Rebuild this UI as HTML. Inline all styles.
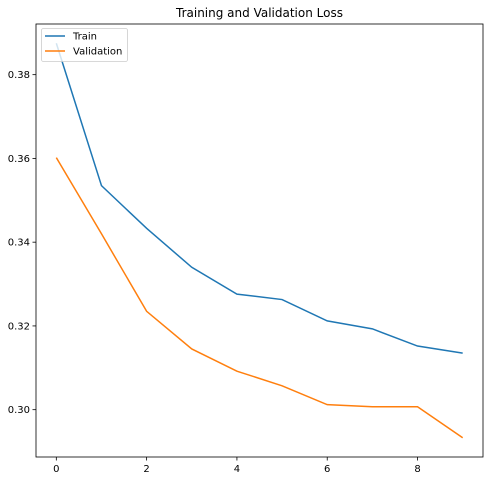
<!DOCTYPE html>
<html><head><meta charset="utf-8"><style>
body{margin:0;background:#fff;font-family:"Liberation Sans","DejaVu Sans",sans-serif;}
svg text{font-family:"DejaVu Sans","Liberation Sans",sans-serif;}
</style></head><body>
<svg id="chart" width="489" height="482" xmlns="http://www.w3.org/2000/svg"></svg>
<script>
const epochs=[0,1,2,3,4,5,6,7,8,9];
const trainLoss=[0.3875,0.3535,0.3433,0.3340,0.3276,0.3263,0.3212,0.3193,0.3152,0.3135];
const valLoss=[0.3602,0.3420,0.3235,0.3145,0.3092,0.3057,0.3012,0.3007,0.3007,0.2933];
const xTicks=[0,2,4,6,8];
const yTicks=[0.30,0.32,0.34,0.36,0.38];
const L=36,R=483,T=24,B=457;
const xMin=-0.45,xMax=9.45,yMin=0.2887,yMax=0.3921;
const sx=v=>L+(v-xMin)/(xMax-xMin)*(R-L);
const sy=v=>B-(v-yMin)/(yMax-yMin)*(B-T);
const svg=document.getElementById('chart');
const NS='http://www.w3.org/2000/svg';
function mk(t,a){const e=document.createElementNS(NS,t);for(const k in a)e.setAttribute(k,a[k]);svg.appendChild(e);return e;}
let e;
e=mk('text',{x:(L+R)/2,y:17,'text-anchor':'middle','font-size':12,fill:'#000'});e.textContent='Training and Validation Loss';


xTicks.forEach(v=>{const x=sx(v);
 e=mk('line',{x1:x,x2:x,y1:B,y2:B+3.5,stroke:'#000','stroke-width':0.8});
 
 
 e=mk('text',{x:x,y:B+15,'text-anchor':'middle','font-size':10,fill:'#000'});e.textContent=v;
 
 
});
yTicks.forEach(v=>{const y=sy(v);
 e=mk('line',{x1:L-3.5,x2:L,y1:y,y2:y,stroke:'#000','stroke-width':0.8});
 
 
 e=mk('text',{x:L-6,y:y+3.5,'text-anchor':'end','font-size':10,fill:'#000'});e.textContent=v.toFixed(2);
 
 
});
function line(vals,color,name){
 e=mk('polyline',{points:vals.map((v,i)=>sx(epochs[i])+','+sy(v)).join(' '),fill:'none',stroke:color,'stroke-width':1.5});
 
 
}
line(trainLoss,'#1f77b4','train-line');
line(valLoss,'#ff7f0e','validation-line');
e=mk('rect',{x:L,y:T,width:R-L,height:B-T,fill:'none',stroke:'#000','stroke-width':0.8});


e=mk('rect',{x:41.5,y:28.5,width:86,height:33,rx:2,fill:'#fff','fill-opacity':0.8,stroke:'#ccc','stroke-width':0.8});


[['Train','#1f77b4',36],['Validation','#ff7f0e',51]].forEach(([t,c,y])=>{
 e=mk('line',{x1:45,x2:65,y1:y,y2:y,stroke:c,'stroke-width':1.5});
 
 
 e=mk('text',{x:73,y:y+3.5,'font-size':10,fill:'#000'});e.textContent=t;
 
 
});
</script>
</body></html>
